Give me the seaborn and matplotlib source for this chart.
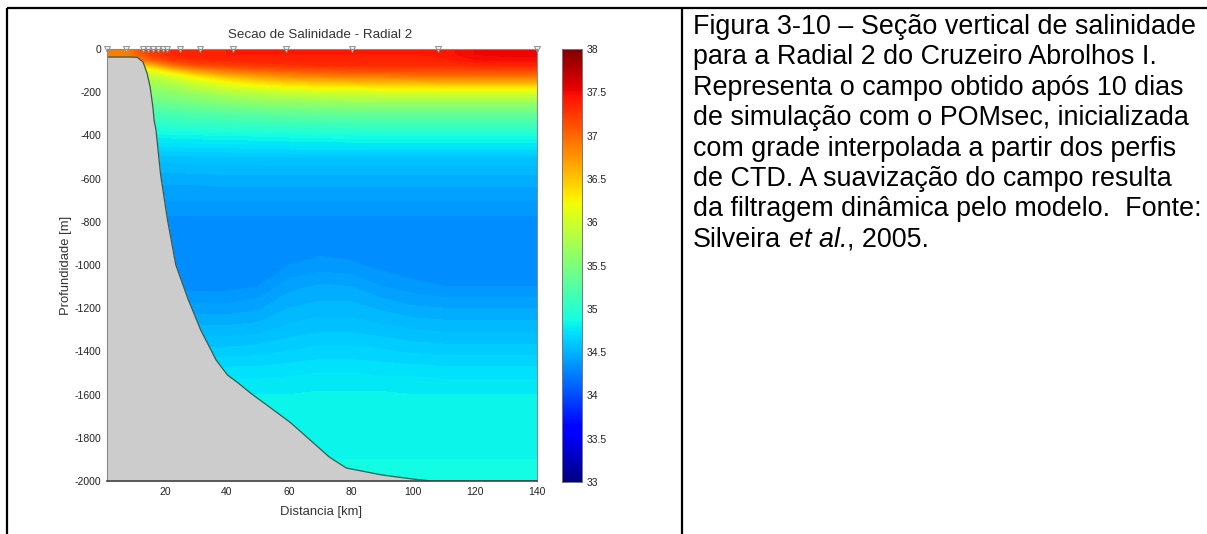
import numpy as np
import matplotlib
matplotlib.use("Agg")
import matplotlib.pyplot as plt
from matplotlib.lines import Line2D
from matplotlib.colors import Normalize
from matplotlib.cm import ScalarMappable
import seaborn as sns

# ---- section grid: distance along the radial (km) and depth (m) ----
dist_km = [1.3, 8, 15, 22, 30, 40, 50, 60, 70, 80, 90, 100, 110, 120, 130, 140]
depth_m = [0, 25, 50, 75, 100, 125, 150, 200, 250, 300, 400, 500, 600, 700,
           800, 900, 1000, 1100, 1200, 1300, 1400, 1500, 1600, 1800, 2000]

# salinity, one row per depth level, one column per distance
sal_0    = [36.85, 36.90, 37.25, 37.35, 37.38, 37.40, 37.40, 37.40, 37.40, 37.40, 37.40, 37.40, 37.42, 37.50, 37.52, 37.52]
sal_25   = [36.85, 36.90, 37.20, 37.35, 37.38, 37.40, 37.40, 37.40, 37.40, 37.40, 37.40, 37.40, 37.42, 37.50, 37.52, 37.52]
sal_50   = [36.85, 36.85, 37.00, 37.22, 37.32, 37.36, 37.38, 37.38, 37.38, 37.38, 37.38, 37.38, 37.38, 37.45, 37.47, 37.47]
sal_75   = [36.60, 36.50, 36.50, 36.90, 37.10, 37.20, 37.25, 37.28, 37.30, 37.30, 37.30, 37.30, 37.30, 37.33, 37.35, 37.35]
sal_100  = [36.30, 36.20, 36.10, 36.40, 36.70, 36.90, 37.00, 37.05, 37.10, 37.12, 37.15, 37.15, 37.15, 37.15, 37.15, 37.15]
sal_125  = [36.00, 35.95, 35.90, 36.05, 36.30, 36.55, 36.70, 36.80, 36.85, 36.88, 36.90, 36.92, 36.95, 36.95, 36.95, 36.95]
sal_150  = [35.85, 35.80, 35.75, 35.85, 36.05, 36.25, 36.40, 36.50, 36.55, 36.58, 36.60, 36.62, 36.65, 36.65, 36.65, 36.65]
sal_200  = [35.55, 35.55, 35.55, 35.60, 35.70, 35.82, 35.90, 35.96, 36.00, 36.02, 36.04, 36.05, 36.05, 36.05, 36.05, 36.05]
sal_250  = [35.35, 35.35, 35.35, 35.40, 35.45, 35.52, 35.57, 35.61, 35.63, 35.65, 35.65, 35.65, 35.65, 35.65, 35.65, 35.65]
sal_300  = [35.15, 35.15, 35.15, 35.18, 35.22, 35.26, 35.29, 35.31, 35.33, 35.34, 35.35, 35.35, 35.35, 35.35, 35.35, 35.35]
sal_400  = [34.82, 34.82, 34.82, 34.83, 34.84, 34.85, 34.86, 34.87, 34.88, 34.89, 34.90, 34.90, 34.90, 34.90, 34.90, 34.90]
sal_500  = [34.58, 34.58, 34.58, 34.58, 34.59, 34.59, 34.59, 34.60, 34.60, 34.60, 34.60, 34.60, 34.60, 34.60, 34.60, 34.60]
sal_600  = [34.47, 34.47, 34.47, 34.47, 34.47, 34.48, 34.48, 34.48, 34.48, 34.48, 34.48, 34.48, 34.48, 34.48, 34.48, 34.48]
sal_700  = [34.40, 34.40, 34.40, 34.40, 34.40, 34.40, 34.40, 34.40, 34.40, 34.40, 34.40, 34.40, 34.40, 34.40, 34.40, 34.40]
sal_800  = [34.33, 34.33, 34.33, 34.33, 34.33, 34.33, 34.33, 34.33, 34.33, 34.33, 34.33, 34.33, 34.33, 34.33, 34.33, 34.33]
sal_900  = [34.30, 34.30, 34.30, 34.30, 34.30, 34.30, 34.30, 34.31, 34.32, 34.31, 34.30, 34.30, 34.30, 34.30, 34.30, 34.30]
sal_1000 = [34.30, 34.30, 34.30, 34.30, 34.30, 34.30, 34.31, 34.35, 34.37, 34.36, 34.33, 34.31, 34.30, 34.30, 34.30, 34.30]
sal_1100 = [34.33, 34.33, 34.33, 34.33, 34.33, 34.33, 34.35, 34.43, 34.46, 34.45, 34.40, 34.37, 34.35, 34.35, 34.35, 34.35]
sal_1200 = [34.42, 34.42, 34.42, 34.42, 34.42, 34.42, 34.44, 34.50, 34.52, 34.52, 34.49, 34.46, 34.45, 34.45, 34.45, 34.45]
sal_1300 = [34.52, 34.52, 34.52, 34.52, 34.52, 34.52, 34.53, 34.57, 34.59, 34.59, 34.57, 34.55, 34.54, 34.54, 34.54, 34.54]
sal_1400 = [34.62, 34.62, 34.62, 34.62, 34.62, 34.62, 34.63, 34.65, 34.67, 34.67, 34.66, 34.64, 34.63, 34.63, 34.63, 34.63]
sal_1500 = [34.73, 34.73, 34.73, 34.73, 34.73, 34.73, 34.73, 34.74, 34.75, 34.75, 34.74, 34.74, 34.73, 34.73, 34.73, 34.73]
sal_1600 = [34.80, 34.80, 34.80, 34.80, 34.80, 34.80, 34.80, 34.80, 34.81, 34.81, 34.81, 34.80, 34.80, 34.80, 34.80, 34.80]
sal_1800 = [34.84, 34.84, 34.84, 34.84, 34.84, 34.84, 34.84, 34.84, 34.84, 34.84, 34.84, 34.84, 34.84, 34.84, 34.84, 34.84]
sal_2000 = [34.86, 34.86, 34.86, 34.86, 34.86, 34.86, 34.86, 34.86, 34.86, 34.86, 34.86, 34.86, 34.86, 34.86, 34.86, 34.86]

salinity = np.array([sal_0, sal_25, sal_50, sal_75, sal_100, sal_125, sal_150,
                     sal_200, sal_250, sal_300, sal_400, sal_500, sal_600,
                     sal_700, sal_800, sal_900, sal_1000, sal_1100, sal_1200,
                     sal_1300, sal_1400, sal_1500, sal_1600, sal_1800, sal_2000])

# ---- bottom topography along the radial ----
bathy_km = [1.3, 8, 11, 12.9, 14.2, 15.2, 16.1, 16.5, 17.1, 18.6, 20.8, 23.5,
            27.5, 31.5, 36.5, 40.2, 43.5, 47.6, 58, 60.6, 73, 78.5, 90, 100,
            106, 140]
bathy_depth = [37, 37, 38, 60, 111, 175, 268, 330, 375, 583, 790, 1000,
               1160, 1300, 1440, 1510, 1545, 1593, 1703, 1731, 1889, 1940,
               1972, 1991, 2000, 2000]

# ---- CTD station positions (km) ----
station_km = [1.3, 7.4, 12.9, 14.5, 16.1, 17.7, 19.4, 20.6, 24.8, 31.3,
              41.9, 59, 80.3, 108, 140]

x_ticks = [20, 40, 60, 80, 100, 120, 140]
x_tick_labels = ["20", "40", "60", "80", "100", "120", "140"]
y_ticks = [0, -200, -400, -600, -800, -1000, -1200, -1400, -1600, -1800, -2000]
y_tick_labels = ["0", "-200", "-400", "-600", "-800", "-1000", "-1200",
                 "-1400", "-1600", "-1800", "-2000"]
cbar_ticks = [33, 33.5, 34, 34.5, 35, 35.5, 36, 36.5, 37, 37.5, 38]
cbar_tick_labels = ["33", "33.5", "34", "34.5", "35", "35.5", "36", "36.5",
                    "37", "37.5", "38"]

caption_lines = [
    "Figura 3-10 \u2013 Seção vertical de salinidade",
    "para a Radial 2 do Cruzeiro Abrolhos I.",
    "Representa o campo obtido após 10 dias",
    "de simulação com o POMsec, inicializada",
    "com grade interpolada a partir dos perfis",
    "de CTD. A suavização do campo resulta",
    "da filtragem dinâmica pelo modelo.  Fonte:",
]

# ---- style ----
sns.set_style("white")
plt.rcParams["font.family"] = ["Liberation Sans", "DejaVu Sans"]
plt.rcParams["axes.unicode_minus"] = False

W, H = 1207, 534
fig = plt.figure(figsize=(W / 100, H / 100), dpi=100)


def fx(px):
    return px / W


def fy(py):
    return 1 - py / H


ax = fig.add_axes([fx(107), fy(481), fx(537) - fx(107), fy(49) - fy(481)])
cax = fig.add_axes([fx(562), fy(482), fx(582) - fx(562), fy(49) - fy(482)])

# salinity field
levels = np.arange(33.0, 38.0001, 0.05)
ax.contourf(dist_km, -np.array(depth_m), salinity, levels=levels,
            cmap="jet", vmin=33, vmax=38, zorder=1)

# topography
bz = -np.array(bathy_depth)
ax.fill_between(bathy_km, bz, -2000, color="#cccccc", lw=0, zorder=3)
sns.lineplot(x=bathy_km, y=bz, ax=ax, color="#3c5a4c", lw=0.9,
             sort=False, estimator=None, zorder=4)

# station markers along the surface
sns.scatterplot(x=station_km, y=[0] * len(station_km), ax=ax, marker="v",
                s=18, color="#f4f4f4", edgecolor="#909090", linewidth=0.7,
                zorder=6, clip_on=False, legend=False)

ax.set_xlim(1.3, 140)
ax.set_ylim(-2000, 0)
ax.set_xticks(x_ticks)
ax.set_xticklabels(x_tick_labels)
ax.set_yticks(y_ticks)
ax.set_yticklabels(y_tick_labels)
ax.tick_params(length=0, labelsize=7.5, colors="#222222", pad=4)
ax.set_xlabel("")
ax.set_ylabel("")
for side, sp in ax.spines.items():
    sp.set_visible(True)
    sp.set_color("#8a8a8a")
    sp.set_linewidth(0.8)
    sp.set_zorder(7)
ax.spines["bottom"].set_color("#444444")
ax.spines["bottom"].set_linewidth(1.2)

# colour bar
sm = ScalarMappable(norm=Normalize(33, 38), cmap="jet")
cb = fig.colorbar(sm, cax=cax, ticks=cbar_ticks)
cb.ax.set_yticklabels(cbar_tick_labels)
cb.outline.set_edgecolor("#777777")
cb.outline.set_linewidth(0.7)
cax.tick_params(direction="in", length=3, width=0.7, colors="#222222",
                left=True, right=True, labelsize=7.5, pad=3)

# chart texts
fig.text(fx(320), fy(35), "Secao de Salinidade - Radial 2", ha="center",
         va="center", fontsize=9.6, color="#333333")
fig.text(fx(321), fy(512), "Distancia [km]", ha="center", va="center",
         fontsize=9.4, color="#333333")
fig.text(fx(66), fy(265), "Profundidade [m]", ha="center", va="center",
         rotation=90, fontsize=9.4, color="#333333")

# caption
cap_size = 19.4
base0, step = 34, 30.4
for i, line in enumerate(caption_lines):
    fig.text(fx(693), fy(base0 + i * step), line, ha="left", va="baseline",
             fontsize=cap_size, color="black")
last_y = fy(base0 + len(caption_lines) * step)
t1 = fig.text(fx(693), last_y, "Silveira", ha="left", va="baseline",
              fontsize=cap_size, color="black")
t2 = fig.add_artist(plt.Annotation("et al.", xy=(1, 0), xycoords=t1,
                                   xytext=(0.278 * cap_size, 0),
                                   textcoords="offset points", ha="left",
                                   va="bottom", fontsize=cap_size,
                                   style="italic", color="black"))
fig.add_artist(plt.Annotation(", 2005.", xy=(1, 0), xycoords=t2,
                              ha="left", va="bottom", fontsize=cap_size,
                              color="black"))

# table frame
frame = dict(transform=fig.transFigure, color="black", lw=1.6,
             solid_capstyle="butt")
fig.add_artist(Line2D([fx(7), 1], [fy(8), fy(8)], **frame))
fig.add_artist(Line2D([fx(7), fx(7)], [fy(8), 0], **frame))
fig.add_artist(Line2D([fx(682), fx(682)], [fy(8), 0], **frame))

fig.savefig("out.png", dpi=100)
